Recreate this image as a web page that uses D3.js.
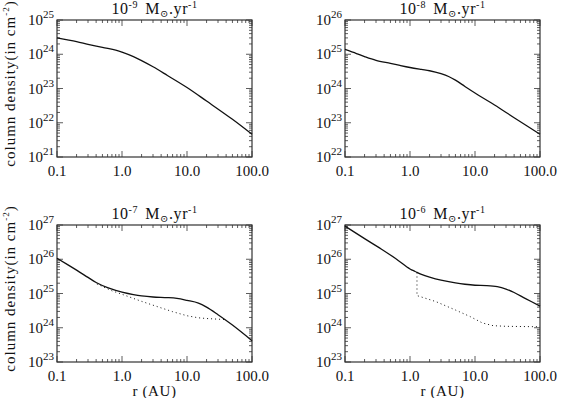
<!DOCTYPE html>
<html>
<head>
<meta charset="utf-8">
<script src="https://cdn.jsdelivr.net/npm/d3@7"></script>
<style>
  body { margin: 0; background: #fff; }
  svg text { font-family: "Liberation Serif", "DejaVu Serif", serif; fill: #111; }
</style>
</head>
<body>
<svg id="chart" width="562" height="398"></svg>
<script>
// ----------

const RATE_EXPONENTS = ["-9", "-8", "-7", "-6"];
const Y_DECADES = [[21, 25], [22, 26], [23, 27], [23, 27]];
const X_TICKS = [0.1, 1, 10, 100];
const X_TICK_LABELS = ["0.1", "1.0", "10.0", "100.0"];

// 1e-9 Msun/yr
const R_A = [0.1, 0.2, 0.3, 0.5, 0.8, 1.0, 1.5, 2, 3, 5, 10, 20, 50, 100];
const N_A = [3.02e24, 2.34e24, 1.95e24, 1.58e24, 1.32e24, 1.15e24, 8.5e23, 6.5e23, 4.3e23, 2.4e23, 1.07e23, 4.3e22, 1.26e22, 4.6e21];

// 1e-8 Msun/yr
const R_B = [0.1, 0.15, 0.2, 0.3, 0.5, 0.7, 1.0, 1.5, 2, 3, 4, 5, 7, 10, 20, 40, 100];
const N_B = [1.38e25, 1.05e25, 8.5e24, 6.6e24, 5.4e24, 4.7e24, 4.1e24, 3.6e24, 3.3e24, 2.7e24, 2.2e24, 1.75e24, 1.15e24, 7.4e23, 3.3e23, 1.4e23, 4.6e22];

// 1e-7 Msun/yr
const R_C = [0.1, 0.2, 0.3, 0.4, 0.6, 0.8, 1.0, 1.5, 2, 3, 5, 7, 10, 15, 20, 30, 50, 100];
const N_C = [1.07e26, 4.8e25, 2.95e25, 2.1e25, 1.48e25, 1.23e25, 1.1e25, 9.3e24, 8.5e24, 7.9e24, 7.6e24, 7.2e24, 6.3e24, 5.25e24, 4.0e24, 2.4e24, 1.2e24, 4.2e23];
const R_C_DOT = [0.41, 0.7, 1.0, 2, 4, 6, 10, 15, 20, 30, 38];
const N_C_DOT = [1.9e25, 1.2e25, 9.5e24, 5.9e24, 3.8e24, 2.95e24, 2.24e24, 1.95e24, 1.86e24, 1.78e24, 1.74e24];

// 1e-6 Msun/yr
const R_D = [0.1, 0.2, 0.36, 0.6, 1.0, 1.2, 1.5, 2, 3, 5, 7, 10, 15, 22, 30, 40, 60, 100];
const N_D = [9.3e26, 4.0e26, 2.0e26, 1.05e26, 5.2e25, 4.4e25, 3.6e25, 3.0e25, 2.45e25, 2.04e25, 1.86e25, 1.74e25, 1.7e25, 1.58e25, 1.35e25, 1.07e25, 7.1e24, 4.3e24];
const R_D_DOT = [1.28, 1.28, 2.5, 5, 8.5, 13, 19, 30, 100];
const N_D_DOT = [4.1e25, 8.7e24, 5.8e24, 3.3e24, 2.1e24, 1.38e24, 1.15e24, 1.1e24, 1.07e24];

// ----------

const BOXES = [
  { left: 57, right: 252, top: 20, bottom: 157 },
  { left: 345, right: 540, top: 20, bottom: 157 },
  { left: 57, right: 252, top: 225, bottom: 362 },
  { left: 345, right: 540, top: 225, bottom: 362 }
];

const panels = [
  { solid: [R_A, N_A], dotted: null },
  { solid: [R_B, N_B], dotted: null },
  { solid: [R_C, N_C], dotted: [R_C_DOT, N_C_DOT] },
  { solid: [R_D, N_D], dotted: [R_D_DOT, N_D_DOT] }
];

const svg = d3.select("#chart");
const MAJOR_LEN = 6, MINOR_LEN = 3;

function minorTicks(lo, hi) {
  let out = [];
  for (let e = lo; e < hi; e++) {
    for (let k = 2; k <= 9; k++) out.push(k * Math.pow(10, e));
  }
  return out;
}

function drawPanel(i) {
  const b = BOXES[i];
  const [ylo, yhi] = Y_DECADES[i];
  const x = d3.scaleLog().domain([0.1, 100]).range([b.left, b.right]);
  const y = d3.scaleLog().domain([Math.pow(10, ylo), Math.pow(10, yhi)]).range([b.bottom, b.top]);
  const g = svg.append("g");

  // ticks on all four sides, pointing inward
  const tk = g.append("g").attr("stroke", "#333").attr("stroke-width", 0.8);
  const xMajor = X_TICKS, xMinor = minorTicks(-1, 2);
  const yMajor = d3.range(ylo, yhi + 1).map(e => Math.pow(10, e));
  const yMinor = minorTicks(ylo, yhi);
  [[xMajor, MAJOR_LEN], [xMinor, MINOR_LEN]].forEach(([vals, len]) => {
    vals.forEach(v => {
      const px = x(v);
      tk.append("line").attr("x1", px).attr("x2", px).attr("y1", b.bottom).attr("y2", b.bottom - len);
      tk.append("line").attr("x1", px).attr("x2", px).attr("y1", b.top).attr("y2", b.top + len);
    });
  });
  [[yMajor, MAJOR_LEN], [yMinor, MINOR_LEN]].forEach(([vals, len]) => {
    vals.forEach(v => {
      const py = y(v);
      tk.append("line").attr("y1", py).attr("y2", py).attr("x1", b.left).attr("x2", b.left + len);
      tk.append("line").attr("y1", py).attr("y2", py).attr("x1", b.right).attr("x2", b.right - len);
    });
  });

  g.append("rect")
    .attr("x", b.left).attr("y", b.top)
    .attr("width", b.right - b.left).attr("height", b.bottom - b.top)
    .attr("fill", "none").attr("stroke", "#333").attr("stroke-width", 1.2);

  // x tick labels
  X_TICKS.forEach((v, j) => {
    g.append("text").attr("x", x(v)).attr("y", b.bottom + 19)
      .attr("text-anchor", "middle").attr("font-size", 15)
      .text(X_TICK_LABELS[j]);
  });

  // y tick labels
  yMajor.forEach((v, j) => {
    const t = g.append("text").attr("x", b.left - 3).attr("y", y(v) + 5)
      .attr("text-anchor", "end").attr("font-size", 15);
    t.append("tspan").text("10");
    t.append("tspan").attr("dy", -7).attr("font-size", 11).text(ylo + j);
  });

  // title
  const cx = (b.left + b.right) / 2;
  const title = g.append("text").attr("x", cx).attr("y", b.top - 6)
    .attr("text-anchor", "middle").attr("font-size", 16)
    .attr("letter-spacing", 0.6);
  title.append("tspan").text("10");
  title.append("tspan").attr("dy", -6).attr("font-size", 10).text(RATE_EXPONENTS[i]);
  title.append("tspan").attr("dy", 6).attr("dx", 7).text("M");
  title.append("tspan").attr("dy", 3).attr("font-size", 10).text("\u2299");
  title.append("tspan").attr("dy", -3).text(".yr");
  title.append("tspan").attr("dy", -6).attr("font-size", 10).text("-1");

  // axis titles
  if (i % 2 === 0) {
    const cy = (b.top + b.bottom) / 2 - 5;
    const yl = g.append("text")
      .attr("transform", "translate(15," + cy + ") rotate(-90)")
      .attr("text-anchor", "middle").attr("font-size", 15)
      .attr("letter-spacing", 1);
    yl.append("tspan").text("column density(in cm");
    yl.append("tspan").attr("dy", -6).attr("font-size", 9).text("-2");
    yl.append("tspan").attr("dy", 6).text(")");
  }
  if (i >= 2) {
    g.append("text").attr("x", cx).attr("y", b.bottom + 34)
      .attr("text-anchor", "middle").attr("font-size", 15)
      .attr("letter-spacing", 0.6)
      .text("r (AU)");
  }

  // curves
  const p = panels[i];
  const solidPts = p.solid[0].map((r, k) => [r, p.solid[1][k]]);
  const lineSolid = d3.line().x(d => x(d[0])).y(d => y(d[1])).curve(d3.curveCatmullRom.alpha(0.5));
  g.append("path").datum(solidPts).attr("d", lineSolid)
    .attr("fill", "none").attr("stroke", "#111").attr("stroke-width", 1.3);

  if (p.dotted) {
    const dotPts = p.dotted[0].map((r, k) => [r, p.dotted[1][k]]);
    const lineDot = d3.line().x(d => x(d[0])).y(d => y(d[1]));
    g.append("path").datum(dotPts).attr("d", lineDot)
      .attr("fill", "none").attr("stroke", "#111").attr("stroke-width", 1)
      .attr("stroke-dasharray", "1,3");
  }
}

d3.range(4).forEach(drawPanel);
</script>
</body>
</html>
